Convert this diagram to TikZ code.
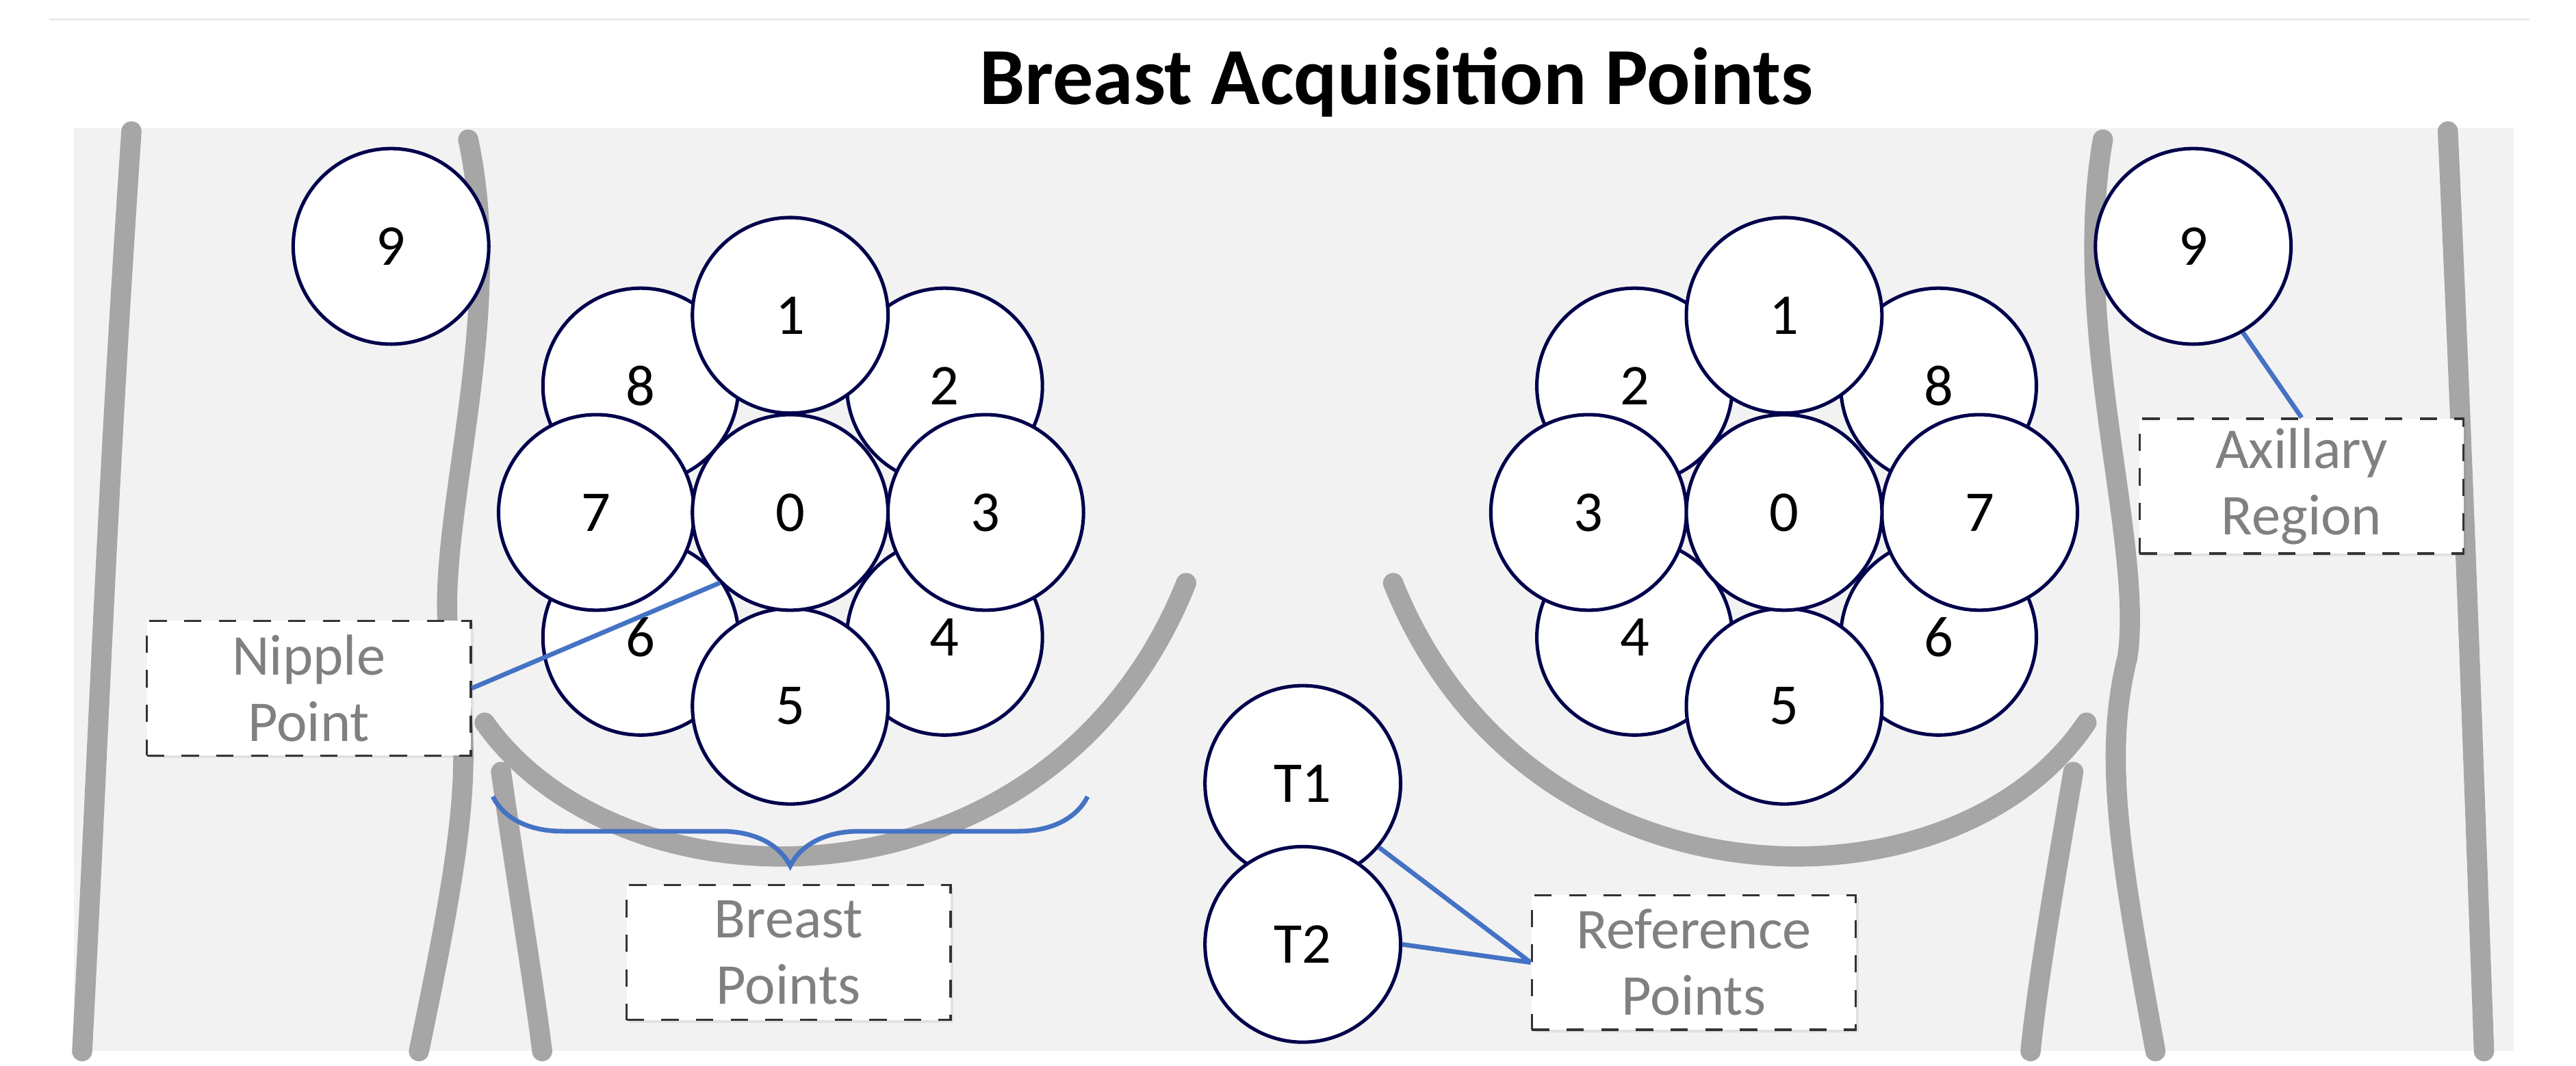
\documentclass[tikz,border=0pt]{standalone}
\usepackage{fontspec}
\setmainfont{Carlito}
\usepackage{tikz}
\usetikzlibrary{decorations.pathreplacing,shadows}
\definecolor{bodygray}{HTML}{F2F2F2}
\definecolor{linegray}{HTML}{A6A6A6}
\definecolor{linkblue}{HTML}{4472C4}
\tikzstyle{spot} = [circle, draw=black!70!blue, fill=white, semithick,
    minimum size=1.19cm, inner sep=0pt, font=\fontsize{10}{12}\selectfont]
\tikzstyle{tag} = [rectangle, draw=black!80, dashed, fill=white, text=black!50,
    text width=1.9cm, minimum height=0.82cm, align=center, inner sep=1pt,
    font=\fontsize{10}{11.5}\selectfont, drop shadow={opacity=0.15,
    shadow xshift=0.5pt, shadow yshift=-0.5pt}]
\tikzstyle{contour} = [linegray, line width=3.5pt, line cap=round]
\tikzstyle{link} = [linkblue, thick]

\begin{document}
\begin{tikzpicture}[x=0.01cm, y=-0.01cm]
    \useasboundingbox (0,0) rectangle (1568,649);
    % Background
    \draw [black!8] (30,12) -- (1540,12);
    \fill [bodygray] (45,78) rectangle (1530,640);
    \fill [white] (440,30) rectangle (590,78);
    % Body outline
    \draw [contour] (80,80) .. controls (65,300) and (60,450) .. (50,640);
    \draw [contour] (285,85) .. controls (310,200) and (260,330) .. (275,400)
        .. controls (290,460) and (280,520) .. (255,640);
    \draw [contour] (305,470) .. controls (315,540) and (325,600) .. (330,640);
    \draw [contour] (295,440) .. controls (380,560) and (640,560) .. (722,355);
    \draw [contour] (848,355) .. controls (930,560) and (1190,560) .. (1270,440);
    \draw [contour] (1280,85) .. controls (1260,200) and (1305,330) .. (1295,400)
        .. controls (1280,460) and (1290,520) .. (1312,640);
    \draw [contour] (1262,470) .. controls (1250,540) and (1240,600) .. (1236,640);
    \draw [contour] (1490,80) .. controls (1500,300) and (1505,450) .. (1512,640);
    % Title
    \node [font=\bfseries\fontsize{14}{16}\selectfont] (title) at (850,50)
        {Breast Acquisition Points};
    % Left breast
    \node [spot] (L9) at (238,150) {9};
    \node [spot] (L8) at (390,235) {8};
    \node [spot] (L2) at (575,235) {2};
    \node [spot] (L6) at (390,388) {6};
    \node [spot] (L4) at (575,388) {4};
    \node [spot] (L7) at (363,312) {7};
    \node [spot] (L3) at (600,312) {3};
    \node [spot] (L1) at (481,192) {1};
    \node [spot] (L5) at (481,430) {5};
    \node [spot] (L0) at (481,312) {0};
    % Right breast
    \node [spot] (R9) at (1335,150) {9};
    \node [spot] (R2) at (995,235) {2};
    \node [spot] (R8) at (1180,235) {8};
    \node [spot] (R4) at (995,388) {4};
    \node [spot] (R6) at (1180,388) {6};
    \node [spot] (R3) at (967,312) {3};
    \node [spot] (R7) at (1205,312) {7};
    \node [spot] (R1) at (1086,192) {1};
    \node [spot] (R5) at (1086,430) {5};
    \node [spot] (R0) at (1086,312) {0};
    % Reference points
    \node [spot] (T1) at (793,477) {T1};
    \node [spot] (T2) at (793,575) {T2};
    % Labels
    \node [tag] (nipple) at (188,419) {Nipple\\Point};
    \node [tag] (axillary) at (1401,296) {Axillary\\Region};
    \node [tag] (breast) at (480,580) {Breast\\Points};
    \node [tag] (reference) at (1031,586) {Reference\\Points};
    % Links
    \draw [link] (nipple.east) -- (L0.225);
    \draw [link] (R9.300) -- (axillary.north);
    \draw [link] (T1.320) -- (reference.west);
    \draw [link] (T2.east) -- (reference.west);
    \coordinate (braceL) at (300,485);
    \coordinate (braceR) at (662,485);
    \draw [link, decorate, decoration={brace, mirror, amplitude=12pt}]
        (braceL) -- (braceR);
\end{tikzpicture}
\end{document}
